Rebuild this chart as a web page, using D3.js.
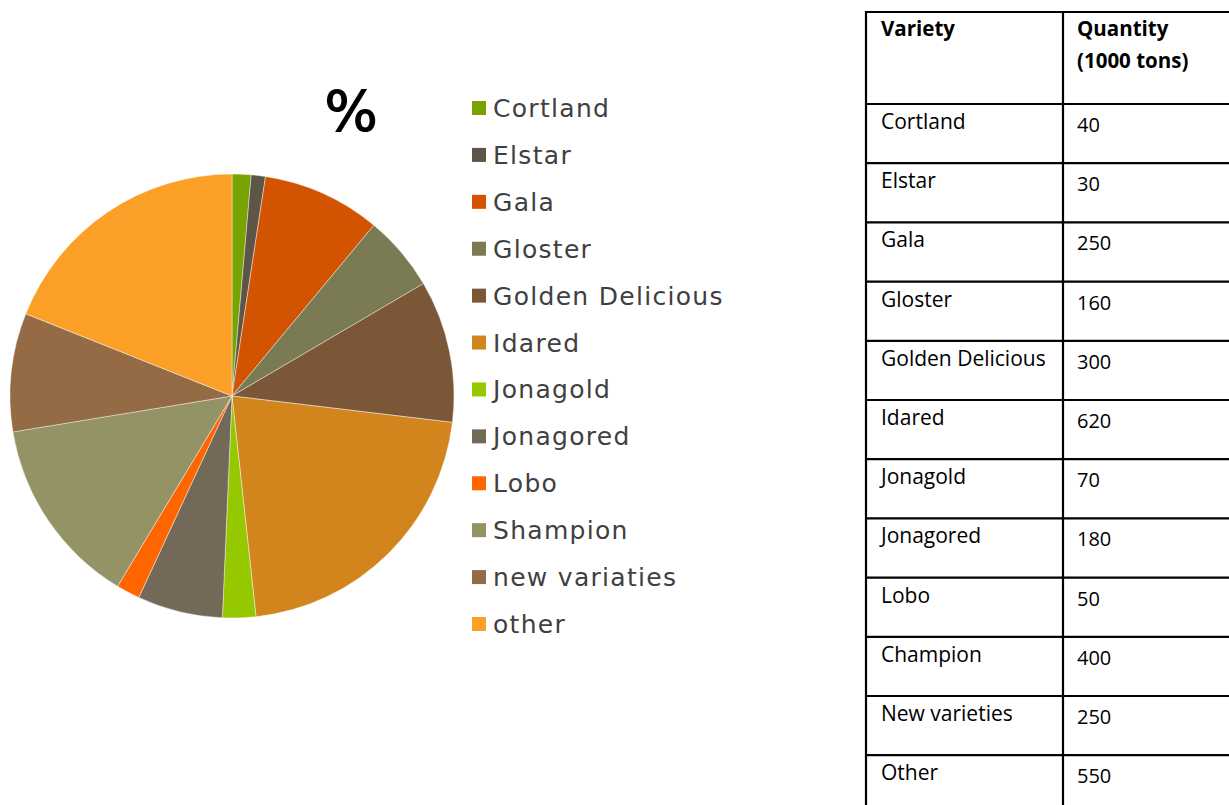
<!DOCTYPE html>
<html>
<head>
<meta charset="utf-8">
<script src="https://cdn.jsdelivr.net/npm/d3@7"></script>
<style>
  body { margin: 0; background: #fff; }
  svg { display: block; }
</style>
</head>
<body>
<section></section>
<script>
// pie legend names (as written on the chart)
const varieties = ["Cortland", "Elstar", "Gala", "Gloster", "Golden Delicious", "Idared",
  "Jonagold", "Jonagored", "Lobo", "Shampion", "new variaties", "other"];
// quantities, 1000 tons
const quantities = [40, 30, 250, 160, 300, 620, 70, 180, 50, 400, 250, 550];
const sliceColors = ["#79a300", "#5d5547", "#d35400", "#7a7b53", "#7b5738", "#d2841d",
  "#96c800", "#736959", "#ff6600", "#939365", "#946b44", "#fb9f27"];
// table names (as written in the table)
const tableNames = ["Cortland", "Elstar", "Gala", "Gloster", "Golden Delicious", "Idared",
  "Jonagold", "Jonagored", "Lobo", "Champion", "New varieties", "Other"];
const tableHeader = ["Variety", "Quantity", "(1000 tons)"];

const W = 1229, H = 805;
const svg = d3.select("section").append("svg")
  .attr("width", W)
  .attr("height", H);

//Pie
const radius = 222;
const pieData = d3.pie().sort(null)(quantities);
const arc = d3.arc().innerRadius(0).outerRadius(radius);

svg.append("g")
  .attr("class", "pie")
  .attr("transform", "translate(232,396)")
  .selectAll("path")
  .data(pieData)
  .enter()
  .append("path")
  .attr("d", arc)
  .attr("fill", (d, i) => sliceColors[i])
  .attr("stroke", "#fff")
  .attr("stroke-opacity", 0.6)
  .attr("stroke-width", 0.7);

//Title
svg.append("text")
  .attr("x", 351)
  .attr("y", 130)
  .attr("text-anchor", "middle")
  .style("font-family", "DejaVu Sans")
  .style("font-size", "56px")
  .style("fill", "#000")
  .style("stroke", "#000")
  .style("stroke-width", 1.2)
  .text("%");

//Legend
const legendY = d3.scaleLinear().domain([0, varieties.length - 1]).range([108, 624]);
const legend = svg.append("g").attr("class", "legend");
const item = legend.selectAll("g")
  .data(varieties)
  .enter()
  .append("g")
  .attr("transform", (d, i) => "translate(472," + legendY(i) + ")");
item.append("rect")
  .attr("x", 0)
  .attr("y", -7)
  .attr("width", 14)
  .attr("height", 14)
  .attr("fill", (d, i) => sliceColors[i]);
item.append("text")
  .attr("x", 21)
  .attr("y", 9)
  .style("font-family", "DejaVu Sans")
  .style("font-size", "25px")
  .style("letter-spacing", "1.3px")
  .style("fill", "#404040")
  .text(d => d);

//Table
const rowY = d3.scaleLinear().domain([0, 1]).range([104, 163.2]);
const colX = [866, 1063, 1240];
const table = svg.append("g").attr("class", "table");
const lineStyle = sel => sel.attr("stroke", "#000").attr("stroke-width", 2.2);

// horizontal lines
const hLines = [12].concat(d3.range(0, tableNames.length + 1).map(i => rowY(i)));
table.selectAll("line.h")
  .data(hLines)
  .enter()
  .append("line")
  .attr("class", "h")
  .attr("x1", colX[0] - 1)
  .attr("x2", colX[2])
  .attr("y1", d => d)
  .attr("y2", d => d)
  .call(lineStyle);
// vertical lines
table.selectAll("line.v")
  .data(colX.slice(0, 2))
  .enter()
  .append("line")
  .attr("class", "v")
  .attr("x1", d => d)
  .attr("x2", d => d)
  .attr("y1", 11)
  .attr("y2", H + 10)
  .call(lineStyle);

const tFont = "'Open Sans', sans-serif";
const header = (x, y, t) => table.append("text")
  .attr("x", x).attr("y", y)
  .style("font-family", tFont).style("font-size", "20.5px").style("font-weight", "bold")
  .text(t);
header(881, 36, tableHeader[0]);
header(1077, 36, tableHeader[1]);
header(1077, 68, tableHeader[2]);

const rows = table.selectAll("g.row")
  .data(tableNames)
  .enter()
  .append("g")
  .attr("class", "row")
  .attr("transform", (d, i) => "translate(0," + rowY(i) + ")");
rows.append("text")
  .attr("x", 881).attr("y", 25)
  .style("font-family", tFont).style("font-size", "21px").style("fill", "#000")
  .text(d => d);
rows.append("text")
  .attr("x", 1077).attr("y", 28)
  .style("font-family", tFont).style("font-size", "20px").style("fill", "#000")
  .text((d, i) => quantities[i]);
</script>
</body>
</html>
